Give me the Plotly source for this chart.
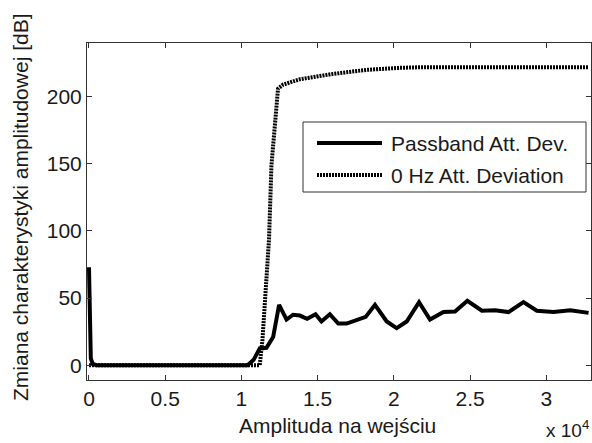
import plotly.graph_objects as go

# Data (x in input amplitude units, y in dB)
pass_x = [0, 50, 120, 250, 500, 10400, 10800, 11200, 11640, 12080, 12470, 12960, 13390,
          13830, 14310, 14860, 15250, 15800, 16350, 16900, 17330, 18150, 18760, 19530,
          20180, 20840, 21650, 22370, 23250, 24010, 24820, 25770, 26640, 27520, 28500,
          29380, 30470, 31570, 32770]
pass_y = [73, 30, 5, 1, 0, 0, 4, 12.5, 13, 21, 45, 34, 37.6,
          37, 34.6, 38, 32.6, 38, 31, 31, 32.6, 36, 45, 32.6,
          27.6, 32.6, 47, 34, 39.6, 40, 48, 40.6, 41, 39.6, 47,
          40.6, 39.6, 41, 39]

zero_x = [0, 11200, 11380, 11810, 11970, 12400, 12730, 13830, 16020, 18210, 20400, 22000, 32770]
zero_y = [0, 0, 19, 94, 149, 206, 209, 213, 217, 220, 221.5, 222, 222]

x_tickvals = [0, 5000, 10000, 15000, 20000, 25000, 30000]
x_ticktext = ["0", "0.5", "1", "1.5", "2", "2.5", "3"]
y_tickvals = [0, 50, 100, 150, 200]

series_names = ["Passband Att. Dev.", "0 Hz Att. Deviation"]
x_title = "Amplituda na wejściu"
y_title = "Zmiana charakterystyki amplitudowej [dB]"

FONT = "Liberation Sans, Arial, sans-serif"
FS = 21
AX = "#333333"
TXT = "#1a1a1a"

fig = go.Figure()
fig.add_trace(go.Scatter(x=pass_x, y=pass_y, mode="lines", name=series_names[0],
                         line=dict(color="black", width=4), showlegend=False))
fig.add_trace(go.Scatter(x=zero_x, y=zero_y, mode="lines", name=series_names[1],
                         line=dict(color="black", width=4, dash="2px,1px"), showlegend=False))

axis_common = dict(showline=True, linecolor=AX, linewidth=1, mirror="ticks",
                   ticks="inside", ticklen=5, tickcolor=AX, showgrid=False, zeroline=False,
                   automargin=False, tickfont=dict(family=FONT, size=FS, color=TXT))

fig.update_xaxes(range=[-130, 32930], tickvals=x_tickvals, ticktext=x_ticktext, **axis_common)
fig.update_yaxes(range=[-11, 240], tickvals=y_tickvals, **axis_common)

W, H = 592, 443
ml, mr, mt, mb = 87, 1, 43, 63
pw, ph = W - ml - mr, H - mt - mb
def px(xp):
    return (xp - ml) / pw
def py(yp):
    return 1 - (yp - mt) / ph

# Axis titles
fig.add_annotation(xref="paper", yref="paper", x=px(337), y=py(425), text=x_title, showarrow=False,
                   xanchor="center", yanchor="middle", font=dict(family=FONT, size=FS, color=TXT))
fig.add_annotation(xref="paper", yref="paper", x=px(21), y=py(207), text=y_title, showarrow=False,
                   textangle=-90, xanchor="center", yanchor="middle",
                   font=dict(family=FONT, size=FS, color=TXT))

# Legend box drawn manually (paper coords)
L, R, T, B = 303, 586, 122, 192
fig.add_shape(type="rect", xref="paper", yref="paper", x0=px(L), x1=px(R), y0=py(B), y1=py(T),
              line=dict(color=AX, width=1), fillcolor="white", layer="above")
fig.add_shape(type="line", xref="paper", yref="paper", x0=px(317), x1=px(382), y0=py(143), y1=py(143),
              line=dict(color="black", width=4), layer="above")
fig.add_shape(type="line", xref="paper", yref="paper", x0=px(317), x1=px(382), y0=py(175), y1=py(175),
              line=dict(color="black", width=4, dash="2px,1px"), layer="above")
for name, yy in zip(series_names, [143, 175]):
    fig.add_annotation(xref="paper", yref="paper", x=px(389), y=py(yy), text=name, showarrow=False,
                       xanchor="left", yanchor="middle", font=dict(family=FONT, size=FS, color=TXT))

# x 10^4 multiplier
fig.add_annotation(xref="paper", yref="paper", x=px(591), y=py(443), text="x 10<sup>4</sup>",
                   showarrow=False, xanchor="right", yanchor="bottom",
                   font=dict(family=FONT, size=FS - 2, color=TXT))

fig.update_layout(width=W, height=H, margin=dict(l=ml, r=mr, t=mt, b=mb, autoexpand=False),
                  paper_bgcolor="white", plot_bgcolor="white", showlegend=False)

fig.write_html("out.html", config={"displayModeBar": False},
               post_script="document.body.style.margin='0';document.body.style.overflow='hidden';")
